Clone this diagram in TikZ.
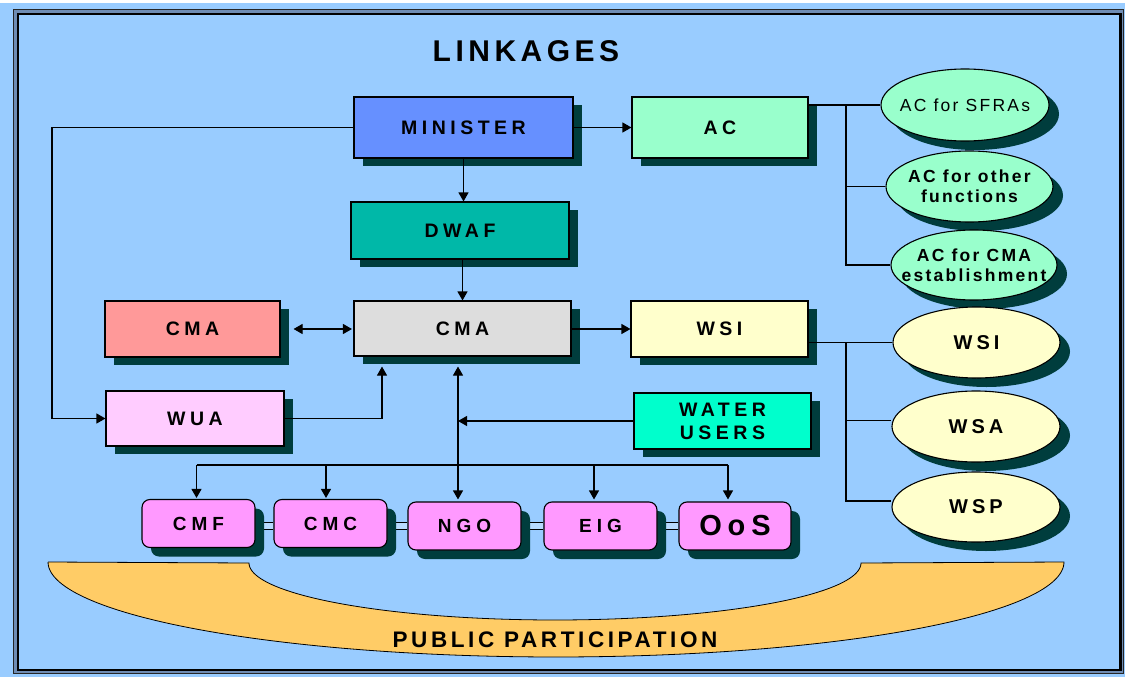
\documentclass[tikz,border=0pt]{standalone}
\usepackage{fontspec}
\setmainfont{Liberation Sans}
\newfontfamily\sfBox[LetterSpace=23]{Liberation Sans}
\newfontfamily\sfPink[LetterSpace=26]{Liberation Sans}
\newfontfamily\sfOos[LetterSpace=20]{Liberation Sans}
\newfontfamily\sfEll[LetterSpace=13]{Liberation Sans}
\newfontfamily\sfWs[LetterSpace=20]{Liberation Sans}
\newfontfamily\sfTitle[LetterSpace=15]{Liberation Sans}
\newfontfamily\sfPP[LetterSpace=16]{Liberation Sans}
\usetikzlibrary{shapes.geometric,arrows.meta,shadows}
\definecolor{bgc}{RGB}{153,204,255}
\definecolor{shd}{RGB}{0,61,61}
\definecolor{minc}{RGB}{102,144,255}
\definecolor{acc}{RGB}{153,255,204}
\definecolor{dwafc}{RGB}{0,184,168}
\definecolor{cmarc}{RGB}{255,153,153}
\definecolor{cmagc}{RGB}{221,221,221}
\definecolor{wsic}{RGB}{255,255,204}
\definecolor{wuac}{RGB}{255,204,255}
\definecolor{wuc}{RGB}{0,255,204}
\definecolor{pinkc}{RGB}{255,153,255}
\definecolor{arcc}{RGB}{255,204,102}
\definecolor{bandc}{RGB}{110,140,180}
\pgfdeclarelayer{back}
\pgfdeclarelayer{links}
\pgfsetlayers{back,links,main}
\begin{document}
\begin{tikzpicture}[x=1pt,y=-1pt,
  box/.style={draw=black, line width=1.1pt, fill=#1, inner sep=0pt,
    drop shadow={shadow xshift=9pt, shadow yshift=-8pt, fill=shd, opacity=1},
    font=\sfBox\bfseries\fontsize{19.5}{23}\selectfont, align=center},
  pbox/.style={draw=black, line width=1.1pt, fill=pinkc, inner sep=0pt, rounded corners=8pt,
    minimum width=113pt, minimum height=48pt,
    drop shadow={shadow xshift=9pt, shadow yshift=-9pt, fill=shd, opacity=1},
    font=\sfPink\bfseries\fontsize{19}{22}\selectfont},
  ell/.style={ellipse, draw=black, line width=1.1pt, fill=#1, inner sep=0pt,
    drop shadow={shadow xshift=10pt, shadow yshift=-9pt, fill=shd, opacity=1}},
  etxt/.style={font=\sfEll\fontsize{17.5}{20}\selectfont, align=center, inner sep=0pt},
  wtxt/.style={font=\sfWs\bfseries\fontsize{20}{24}\selectfont, inner sep=0pt},
  ln/.style={draw=black, line width=1.1pt},
  arr/.style={ln, -{Triangle[length=9pt,width=10pt]}},
  darr/.style={ln, {Triangle[length=9pt,width=10pt]}-{Triangle[length=9pt,width=10pt]}},
  dline/.style={draw=black, line width=1.1pt, double=bgc!70!white, double distance=5.5pt}
]
\useasboundingbox (0,0) rectangle (1125,677);
\begin{pgfonlayer}{back}
  \fill[bgc] (0,0) rectangle (1125,677);
  \fill[white] (0,0) rectangle (1125,3);
  \draw[line width=1pt, draw=black!85, fill=bandc] (13.8,9.3) rectangle (1123.8,673.3);
  \draw[line width=2.3pt, draw=black, fill=bgc] (18.2,13.9) rectangle (1120.5,670.2);
\end{pgfonlayer}

% title
\node[font=\sfTitle\bfseries\fontsize{30}{36}\selectfont, inner sep=0pt] (title) at (526,51.5) {LINKAGES};

% public participation arc
\draw[line width=0.8pt, fill=arcc] (48,562) -- plot[domain=0:180, samples=90] ({555-306*cos(\x)},{563+57*sin(\x)})
  -- plot[domain=0:180, samples=120] ({556+508*cos(\x)},{562+95*sin(\x)}) -- cycle;
\node[font=\sfPP\bfseries\fontsize{22.5}{26}\selectfont, inner sep=0pt] (pp) at (555,640) {PUBLIC PARTICIPATION};

% boxes
\node[box=minc, minimum width=219pt, minimum height=61pt] (MIN) at (463.5,127.5) {MINISTER};
\node[box=acc, minimum width=176pt, minimum height=61pt] (AC) at (720,127.5) {AC};
\node[box=dwafc, minimum width=218pt, minimum height=57pt] (DWAF) at (460,230.5) {DWAF};
\node[box=cmarc, minimum width=175pt, minimum height=56pt] (CMAr) at (192.5,329) {CMA};
\node[box=cmagc, minimum width=217pt, minimum height=55pt] (CMAc) at (462.5,328.5) {CMA};
\node[box=wsic, minimum width=177pt, minimum height=56pt] (WSIb) at (719.5,329) {WSI};
\node[box=wuac, minimum width=178pt, minimum height=55pt] (WUA) at (195,418.5) {WUA};
\node[box=wuc, minimum width=177pt, minimum height=56pt] (WATER) at (722.5,421) {WATER\\USERS};

% bottom row
\node[pbox] (CMF) at (198.5,523.5) {CMF};
\node[pbox] (CMC) at (330.5,523.5) {CMC};
\node[pbox] (NGO) at (464.5,526) {NGO};
\node[pbox] (EIG) at (600.5,526) {EIG};
\node[pbox, minimum width=112pt, font=\sfOos\bfseries\fontsize{29}{34}\selectfont] (OoS) at (735,526) {OoS};

% ellipses
\node[ell=acc, minimum width=168pt, minimum height=72pt] (E1) at (965,105) {};
\node[ell=acc, minimum width=167pt, minimum height=71pt] (E2) at (969.5,186.5) {};
\node[ell=acc, minimum width=166pt, minimum height=70pt] (E3) at (974,265) {};
\node[ell=wsic, minimum width=167pt, minimum height=71pt] (E4) at (976.5,342.5) {};
\node[ell=wsic, minimum width=168pt, minimum height=71pt] (E5) at (976,426.5) {};
\node[ell=wsic, minimum width=168pt, minimum height=70pt] (E6) at (976,507) {};
\node[etxt] (t1) at (E1) {AC for SFRAs};
\node[etxt, font=\sfEll\bfseries\fontsize{17.5}{20}\selectfont] (t2) at (E2) {AC for other\\functions};
\node[etxt, font=\sfEll\bfseries\fontsize{17.5}{20}\selectfont] (t3) at (E3) {AC for CMA\\establishment};
\node[wtxt] (t4) at (E4) {WSI};
\node[wtxt] (t5) at (E5) {WSA};
\node[wtxt] (t6) at (E6) {WSP};

% helper coordinates
\coordinate (acx) at (846,0);
\coordinate (lx) at (52,0);
\coordinate (w5) at ([yshift=6pt]E5.west);
\coordinate (w6) at ([yshift=6pt]E6.west);
\coordinate (cq) at ([xshift=-80.5pt]CMAc.south);
\coordinate (vt) at ([xshift=-4.5pt]CMAc.south);
\coordinate (bus) at (0,465);
\coordinate (dl) at (0,526);
\coordinate (b1) at ([xshift=-2pt]CMF.north);
\coordinate (b2) at ([xshift=-4.5pt]CMC.north);
\coordinate (b4) at ([xshift=-6.5pt]EIG.north);
\coordinate (b5) at ([xshift=-7pt]OoS.north);

% AC branches
\draw[ln] (AC.east |- E1.west) -- (E1.west);
\draw[ln] (acx |- E1.west) -- (acx |- E3.west) -- (E3.west);
\draw[ln] (acx |- E2.west) -- (E2.west);
% WSI branches
\draw[ln] (WSIb.east |- E4.west) -- (E4.west);
\draw[ln] (acx |- E4.west) -- (acx |- w6) -- (w6);
\draw[ln] (acx |- w5) -- (w5);

% arrows
\draw[arr] (MIN.east) -- (MIN.east -| AC.west);
\draw[arr] (MIN.south) -- (MIN.south |- DWAF.north);
\draw[arr] (CMAc.north |- DWAF.south) -- (CMAc.north);
\draw[darr, shorten <=13pt, shorten >=1.5pt] (CMAr.east) -- (CMAr.east -| CMAc.west);
\draw[arr] (CMAc.east |- WSIb.west) -- (WSIb.west);
\draw[arr] (MIN.west) -- (MIN.west -| lx) |- (WUA.west);
\draw[arr, shorten >=10pt] (WUA.east) -| (cq);
\draw[darr, shorten <=10pt, shorten >=2pt] (vt) -- (vt |- NGO.north);
\draw[arr] (WATER.west) -- (WATER.west -| vt);
\draw[ln] (b1 |- bus) -- (b5 |- bus);
\draw[arr] (b1 |- bus) -- ([yshift=1pt]b1);
\draw[arr] (b2 |- bus) -- ([yshift=1pt]b2);
\draw[arr] (b4 |- bus) -- ([yshift=2pt]b4);
\draw[arr] (b5 |- bus) -- ([yshift=2pt]b5);

% double links between bottom boxes
\begin{pgfonlayer}{links}
  \draw[dline] (CMF.east |- dl) -- (CMC.west |- dl);
  \draw[dline] (CMC.east |- dl) -- (NGO.west |- dl);
  \draw[dline] (NGO.east |- dl) -- (EIG.west |- dl);
  \draw[dline] (EIG.east |- dl) -- (OoS.west |- dl);
\end{pgfonlayer}
\end{tikzpicture}
\end{document}
